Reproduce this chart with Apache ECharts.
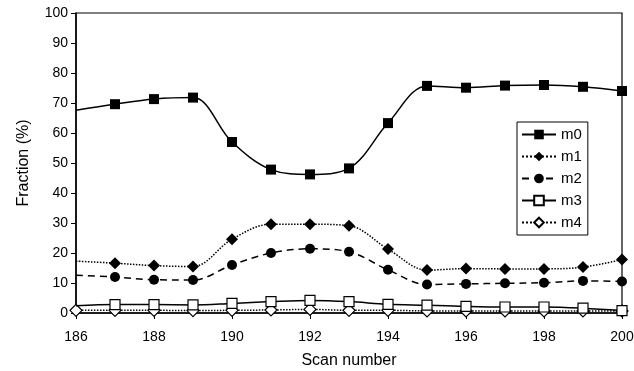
<!DOCTYPE html>
<html>
<head>
<meta charset="utf-8">
<script src="https://cdn.jsdelivr.net/npm/echarts@6/dist/echarts.min.js"></script>
<style>html,body{margin:0;padding:0;background:#fff}#c{width:634px;height:371px}</style>
</head>
<body>
<div id="c"></div>
<script>
const scans = [186,187,188,189,190,191,192,193,194,195,196,197,198,199,200];
const m0 = [67.6,69.6,71.3,71.8,57.0,47.8,46.2,48.2,63.3,75.7,75.1,75.8,76.0,75.4,74.0];
const m1 = [17.3,16.6,15.8,15.5,24.6,29.6,29.6,29.1,21.3,14.3,14.8,14.7,14.7,15.3,17.8];
const m2 = [12.6,12.0,11.1,11.0,16.0,20.0,21.4,20.4,14.4,9.5,9.7,9.9,10.1,10.7,10.5];
const m3 = [2.4,2.8,2.8,2.7,3.2,3.8,4.2,3.8,2.9,2.6,2.2,2.0,2.0,1.6,0.8];
const m4 = [0.9,0.9,0.9,0.8,0.9,1.0,1.2,0.9,0.9,0.7,0.7,0.7,0.7,0.7,0.7];
const seriesNames = ['m0','m1','m2','m3','m4'];
const hideFirst = [true,true,true,true,false];

const FONT = 'Liberation Sans, Arial, sans-serif';
function mk(vals, hide) {
  return scans.map((s,i)=> (i===0 && hide) ? {value:[s,vals[i]], symbol:'none'} : [s,vals[i]]);
}
const styles = [
  {symbol:'rect', fill:'#000', type:'solid', w:1.5},
  {symbol:'diamond', fill:'#000', type:'dotted', w:1.5},
  {symbol:'circle', fill:'#000', type:[7,5], w:1.5},
  {symbol:'rect', fill:'#fff', type:'solid', w:1.5},
  {symbol:'diamond', fill:'#fff', type:'dotted', w:1.5}
];
const data = [m0,m1,m2,m3,m4];
const series = seriesNames.map((n,k)=>({
  name:n, type:'line', smooth:0.35,
  data: mk(data[k], hideFirst[k]),
  symbol: styles[k].symbol,
  symbolSize: styles[k].symbol==='diamond' ? 12 : 10,
  itemStyle:{color:styles[k].fill, borderColor:'#000', borderWidth: styles[k].fill==='#fff'?1.2:0},
  lineStyle:{color:'#000', width:styles[k].w, type:styles[k].type},
  z: 10-k
}));
const chart = echarts.init(document.getElementById('c'));
chart.setOption({
  animation:false,
  backgroundColor:'#fff',
  grid:{left:76,right:12,top:13,bottom:58,outerBoundsMode:'none',containLabel:false,show:true,borderColor:'#000',borderWidth:1.2,backgroundColor:'transparent'},
  legend:{
    orient:'vertical', left:517, top:122,
    data:seriesNames,
    borderColor:'#000', borderWidth:1, padding:[5,6,5,4], itemGap:7,
    itemWidth:34, itemHeight:12,
    textStyle:{fontFamily:FONT, fontSize:15, color:'#000'}
  },
  xAxis:{
    type:'value', min:186, max:200, interval:2,
    name:'Scan number', nameLocation:'middle', nameGap:40,
    nameTextStyle:{fontFamily:FONT, fontSize:16, color:'#000'},
    axisLine:{lineStyle:{color:'#000',width:1.5}},
    axisTick:{show:true,length:6,inside:false,lineStyle:{color:'#000'}},
    axisLabel:{fontFamily:FONT, fontSize:14, color:'#000', margin:17},
    splitLine:{show:false}
  },
  yAxis:{
    type:'value', min:0, max:100, interval:10,
    name:'Fraction (%)', nameLocation:'middle', nameGap:44,
    nameTextStyle:{fontFamily:FONT, fontSize:16, color:'#000'},
    axisLine:{show:true,lineStyle:{color:'#000',width:1.5}},
    axisTick:{show:true,length:5,lineStyle:{color:'#000'}},
    axisLabel:{fontFamily:FONT, fontSize:14, color:'#000', margin:8},
    splitLine:{show:false}
  },
  series: series
});
</script>
</body>
</html>
